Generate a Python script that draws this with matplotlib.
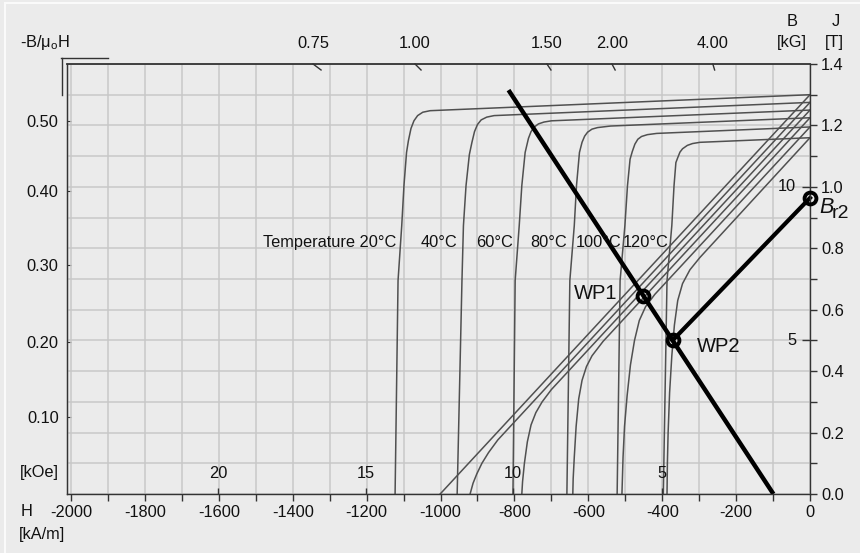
import numpy as np
import matplotlib
matplotlib.use("Agg")
from matplotlib import pyplot as plt
from matplotlib.lines import Line2D
from matplotlib import transforms

plt.rcParams['font.family'] = ['Liberation Sans', 'DejaVu Sans']
plt.rcParams['mathtext.fontset'] = 'custom'
plt.rcParams['mathtext.rm'] = 'Liberation Sans'
plt.rcParams['mathtext.it'] = 'Liberation Sans:italic'
plt.rcParams['axes.unicode_minus'] = False

# demagnetisation curves, (H [kA/m], J or B [T])
temps = [20, 40, 60, 80, 100, 120]
j20 = [(0, 1.30), (-1028, 1.248), (-1048, 1.243), (-1062, 1.232), (-1072, 1.215),
       (-1080, 1.190), (-1087, 1.150), (-1092, 1.112), (-1099, 1.004), (-1105, 0.874),
       (-1115, 0.695), (-1123, 0.0)]
j40 = [(0, 1.275), (-855, 1.232), (-875, 1.227), (-890, 1.218), (-900, 1.203),
       (-908, 1.180), (-915, 1.145), (-922, 1.105), (-931, 1.004), (-938, 0.874),
       (-942, 0.695), (-955, 0.0)]
j60 = [(0, 1.25), (-700, 1.215), (-720, 1.211), (-735, 1.205), (-746, 1.195),
       (-755, 1.180), (-762, 1.158), (-771, 1.112), (-780, 1.004), (-787, 0.874),
       (-798, 0.695), (-804, 0.0)]
j80 = [(0, 1.225), (-540, 1.198), (-575, 1.193), (-590, 1.188), (-602, 1.178),
       (-610, 1.165), (-617, 1.145), (-624, 1.112), (-632, 1.004), (-638, 0.874),
       (-650, 0.695), (-658, 0.0)]
j100 = [(0, 1.195), (-415, 1.174), (-440, 1.170), (-456, 1.164), (-466, 1.155),
        (-474, 1.139), (-481, 1.115), (-487, 1.090), (-494, 1.004), (-501, 0.874),
        (-514, 0.695), (-522, 0.0)]
j120 = [(0, 1.16), (-298, 1.145), (-318, 1.141), (-332, 1.135), (-345, 1.124),
        (-352, 1.113), (-358, 1.095), (-363, 1.079), (-368, 1.004), (-374, 0.874),
        (-387, 0.695), (-397, 0.0)]
b20 = [(0, 1.30), (-1001, 0.0)]
b40 = [(0, 1.275), (-845, 0.176), (-870, 0.135), (-888, 0.10), (-902, 0.065),
       (-912, 0.035), (-920, 0.0)]
b60 = [(0, 1.25), (-700, 0.34), (-725, 0.30), (-742, 0.265), (-755, 0.225),
       (-765, 0.17), (-773, 0.10), (-778, 0.04), (-780, 0.0)]
b80 = [(0, 1.225), (-560, 0.497), (-590, 0.45), (-605, 0.415), (-617, 0.37),
       (-626, 0.31), (-633, 0.22), (-638, 0.12), (-641, 0.05), (-642, 0.0)]
b100 = [(0, 1.195), (-420, 0.65), (-445, 0.61), (-462, 0.565), (-475, 0.50),
        (-486, 0.42), (-495, 0.32), (-502, 0.22), (-506, 0.12), (-509, 0.0)]
b120 = [(0, 1.16), (-298, 0.77), (-325, 0.73), (-345, 0.685), (-358, 0.63),
        (-367, 0.55), (-374, 0.45), (-380, 0.33), (-384, 0.2), (-386, 0.1), (-387, 0.0)]

load_line = [(-816, 1.315), (-99, 0.0)]
wp1 = (-451, 0.646)
wp2 = (-372, 0.500)
br2 = (0, 0.964)

temp_label_h = [-1120, -955, -804, -658, -509, -382]
perm_labels = ['0.75', '1.00', '1.50', '2.00', '4.00']
perm_h = [-1345, -1069, -712, -536, -263]
left_labels = ['0.50', '0.40', '0.30', '0.20', '0.10']
left_pos = [1.215, 0.987, 0.744, 0.494, 0.250]
koe_labels = ['20', '15', '10', '5']
koe_h = [-1602, -1202, -804, -400]
kg_labels = ['10', '5']
kg_j = [1.0, 0.5]

W, H = 860, 553
bg = '#ebebeb'
dark = '#333333'
fs = 11.8

def px(x, y):
    return x / W, 1 - y / H

fig = plt.figure(figsize=(W / 100, H / 100), dpi=100, facecolor=bg)
ax = fig.add_axes([67 / W, 1 - 494 / H, (810 - 67) / W, (494 - 64) / H])
ax.set_facecolor(bg)
ax.set_xlim(-2011, 0)
ax.set_ylim(0, 1.4)

ax.set_xticks(np.arange(-2000, 1, 200))
ax.set_xticks(np.arange(-1900, 0, 200), minor=True)
ax.set_yticks(np.arange(0, 1.41, 0.2))
ax.set_yticks(np.arange(0.1, 1.4, 0.2), minor=True)
ax.set_yticklabels(['%.1f' % v for v in np.arange(0, 1.41, 0.2)])
ax.yaxis.set_ticks_position('right')
ax.grid(which='both', color='#c8c8c8', lw=1.1)
ax.set_axisbelow(True)
ax.tick_params(axis='both', which='both', direction='out', length=5, width=1,
               color=dark, labelsize=fs, labelcolor='#111111')
ax.tick_params(axis='x', pad=3)
ax.tick_params(axis='y', pad=3)
for s in ax.spines.values():
    s.set_color(dark)
    s.set_linewidth(1.0)
ax.spines['top'].set_linewidth(1.3)

# left -B/mu0H scale
sec = ax.secondary_yaxis('left')
sec.set_yticks(left_pos, labels=left_labels)
sec.tick_params(direction='in', length=3, color=dark, labelsize=fs, pad=6,
                labelcolor='#111111')
sec.spines['left'].set_color(dark)

curve_col = '#505050'
for pts in [j20, j40, j60, j80, j100, j120, b20, b40, b60, b80, b100, b120]:
    hh, jj = zip(*pts)
    ax.plot(hh, jj, color=curve_col, lw=1.1)

lh, lj = zip(*load_line)
ax.plot(lh, lj, color='black', lw=3.2, solid_capstyle='butt')
ax.plot([wp2[0], br2[0]], [wp2[1], br2[1]], color='black', lw=3.0, clip_on=False)
ax.plot([wp1[0], wp2[0], br2[0]], [wp1[1], wp2[1], br2[1]], 'o', ms=8.5,
        mfc='none', mec='black', mew=2.8, clip_on=False, zorder=5)

ax.annotate('WP1', wp1, xytext=(-26, 2), textcoords='offset pixels',
            ha='right', va='center', fontsize=14.5, color='#111111')
ax.annotate('WP2', wp2, xytext=(24, -6), textcoords='offset pixels',
            ha='left', va='center', fontsize=14.5, color='#111111')
ax.annotate('B', br2, xytext=(9, -10), textcoords='offset pixels', style='italic',
            ha='left', va='center', fontsize=15.5, annotation_clip=False, color='#111111')
ax.annotate('r2', br2, xytext=(22, -16), textcoords='offset pixels',
            ha='left', va='center', fontsize=14, annotation_clip=False, color='#111111')

# temperature labels
for i, (t, h) in enumerate(zip(temps, temp_label_h)):
    txt = ('Temperature %d\u00b0C' % t) if i == 0 else ('%d\u00b0C' % t)
    ax.text(h, 0.818, txt, ha='right', va='center', fontsize=fs, color='#111111')

# top permeance marks
bt = transforms.blended_transform_factory(ax.transData, ax.transAxes)
slants = [1.33, 1.0, 0.67, 0.53, 0.3]
for lab, h, sl in zip(perm_labels, perm_h, slants):
    ax.text(h, 1 + 21 / 430, lab, transform=bt, ha='center', va='center',
            fontsize=fs, color='#111111')
    dx = sl * 6 / 0.3695
    ax.plot([h, h + dx], [1.4, 1.4 - 6 / 307.9], color=dark, lw=1.0, clip_on=False)

# kOe scale inside bottom
for lab, h in zip(koe_labels, koe_h):
    ax.text(h, 0.068, lab, ha='center', va='center', fontsize=fs, color='#111111')
ax.vlines(koe_h, 0, 6 / 307.9, color=dark, lw=1.0)

# kG scale inside right
for lab, j in zip(kg_labels, kg_j):
    ax.text(-37, j, lab, ha='right', va='center', fontsize=fs, color='#111111')
ax.hlines(kg_j, -8 / 0.3695, 0, color=dark, lw=1.0)

# header and axis captions
tc = '#111111'
fig.text(*px(20, 43), '-B/\u03bc$_{\\rm o}$H', ha='left', va='center', fontsize=fs, color=tc)
fig.text(*px(792, 21), 'B', ha='center', va='center', fontsize=fs, color=tc)
fig.text(*px(792, 43), '[kG]', ha='center', va='center', fontsize=fs, color=tc)
fig.text(*px(836, 21), 'J', ha='center', va='center', fontsize=fs, color=tc)
fig.text(*px(834, 43), '[T]', ha='center', va='center', fontsize=fs, color=tc)
fig.text(*px(20, 473), '[kOe]', ha='left', va='center', fontsize=fs, color=tc)
fig.text(*px(21, 511), 'H', ha='left', va='center', fontsize=fs, color=tc)
fig.text(*px(19, 534), '[kA/m]', ha='left', va='center', fontsize=fs, color=tc)

# bracket at top-left corner
fig.add_artist(Line2D([61 / W, 108 / W], [1 - 58 / H, 1 - 58 / H], color=dark, lw=1.0))
fig.add_artist(Line2D([62 / W, 62 / W], [1 - 58 / H, 1 - 95 / H], color=dark, lw=1.0))
# light frame edge
fig.add_artist(Line2D([5 / W, 1], [1 - 3 / H, 1 - 3 / H], color='#fafafa', lw=1.5))
fig.add_artist(Line2D([5 / W, 5 / W], [0, 1 - 3 / H], color='#fafafa', lw=1.5))

fig.savefig('out.png', dpi=100, facecolor=bg)
